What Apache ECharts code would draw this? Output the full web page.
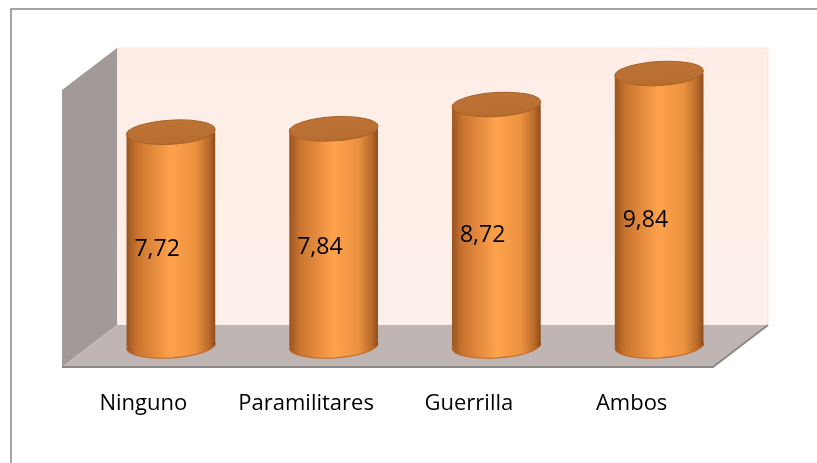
<!DOCTYPE html>
<html>
<head>
<meta charset="utf-8">
<script src="https://cdn.jsdelivr.net/npm/echarts@6/dist/echarts.min.js"></script>
<style>
	html, body { margin: 0; padding: 0; background: #fff; }
	#chart { width: 817px; height: 463px; }
</style>
</head>
<body>
<div id="chart"></div>
<script>
	// datos
	var categorias = ['Ninguno', 'Paramilitares', 'Guerrilla', 'Ambos'];
	var valores = [7.72, 7.84, 8.72, 9.84];
	var ejeMin = 0;
	var ejeMax = 10;

	// desplazamiento de profundidad (efecto 3D)
	var DX = 27.5, DY = 21;

	var myChart = echarts.init(document.getElementById('chart'));

	function paredes(params, api) {
		var c = params.coordSys;
		var x0 = c.x, y0 = c.y, x1 = c.x + c.width, y1 = c.y + c.height;
		return {
			type: 'group',
			children: [{
				// fondo
				type: 'rect',
				shape: { x: x0 + DX, y: y0 - DY, width: c.width, height: c.height },
				style: {
					fill: new echarts.graphic.LinearGradient(0, 0, 0, 1, [
						{ offset: 0, color: '#fdede6' },
						{ offset: 1, color: '#fdf0ea' }
					]),
					stroke: '#f6e6e0', lineWidth: 1
				}
			}, {
				// pared izquierda
				type: 'polygon',
				shape: { points: [[x0 - DX, y0 + DY], [x0 + DX, y0 - DY], [x0 + DX, y1 - DY], [x0 - DX, y1 + DY]] },
				style: { fill: '#a19a98' }
			}, {
				// piso
				type: 'polygon',
				shape: { points: [[x0 + DX, y1 - DY], [x1 + DX, y1 - DY], [x1 - DX, y1 + DY], [x0 - DX, y1 + DY]] },
				style: { fill: '#bfb5b2' }
			}, {
				type: 'polyline',
				shape: { points: [[x0 - DX, y1 + DY], [x1 - DX, y1 + DY], [x1 + DX, y1 - DY]] },
				style: { stroke: '#8c8888', lineWidth: 2, fill: null }
			}]
		};
	}

	function cilindro(params, api) {
		var idx = api.value(0);
		var v = api.value(1);
		var top = api.coord([idx, v]);
		var base = api.coord([idx, 0]);
		var w = api.size([1, 0])[0] * 0.545;
		var rx = w / 2, ry = 12;
		var cx = top[0];
		var rot = 0.06;
		var cuerpo = new echarts.graphic.LinearGradient(0, 0, 1, 0, [
			{ offset: 0, color: '#9a5421' },
			{ offset: 0.12, color: '#c9742f' },
			{ offset: 0.5, color: '#ffa24c' },
			{ offset: 0.78, color: '#eb913f' },
			{ offset: 0.93, color: '#b86a2b' },
			{ offset: 1, color: '#8e4c1c' }
		]);
		var texto = v.toFixed(2).replace('.', ',');
		return {
			type: 'group',
			children: [{
				type: 'ellipse',
				shape: { cx: cx, cy: base[1], rx: rx, ry: ry },
				rotation: rot, originX: cx, originY: base[1],
				style: { fill: cuerpo, stroke: '#c06a28', lineWidth: 1 }
			}, {
				type: 'rect',
				shape: { x: cx - rx, y: top[1], width: w, height: base[1] - top[1] },
				style: { fill: cuerpo }
			}, {
				type: 'ellipse',
				shape: { cx: cx, cy: top[1], rx: rx, ry: ry },
				rotation: rot, originX: cx, originY: top[1],
				style: {
					fill: new echarts.graphic.LinearGradient(0, 0, 0, 1, [
						{ offset: 0, color: '#bd7436' },
						{ offset: 1, color: '#b66d2f' }
					]),
					stroke: '#a9622a', lineWidth: 1
				}
			}, {
				type: 'text',
				x: cx - DX / 2,
				y: (top[1] + base[1]) / 2 + DY / 2,
				style: {
					text: texto,
					fill: '#000',
					font: '23px "Open Sans"',
					align: 'center',
					verticalAlign: 'middle'
				}
			}]
		};
	}

	myChart.setOption({
		animation: false,
		graphic: [{
			type: 'rect',
			shape: { x: 11, y: 9, width: 900, height: 520 },
			style: { fill: null, stroke: '#868686', lineWidth: 1.5 },
			z: 100
		}],
		grid: [
			{ left: 89.5, right: 76.5, top: 69, bottom: 117 },
			{ left: 62, right: 104, top: 90, bottom: 96 }
		],
		xAxis: [{
			type: 'category', gridIndex: 0, data: categorias,
			axisLine: { show: false }, axisTick: { show: false }, axisLabel: { show: false }
		}, {
			type: 'category', gridIndex: 1, data: categorias,
			axisLine: { show: false }, axisTick: { show: false },
			axisLabel: {
				interval: 0, margin: 26, color: '#000', fontSize: 22, fontFamily: 'Open Sans'
			}
		}],
		yAxis: [{
			type: 'value', gridIndex: 0, min: ejeMin, max: ejeMax, show: false
		}, {
			type: 'value', gridIndex: 1, min: ejeMin, max: ejeMax, show: false
		}],
		series: [{
			type: 'custom',
			xAxisIndex: 0, yAxisIndex: 0,
			renderItem: paredes,
			data: [[0, 0]],
			silent: true,
			z: 1
		}, {
			name: 'Promedio',
			type: 'custom',
			xAxisIndex: 0, yAxisIndex: 0,
			renderItem: cilindro,
			data: valores.map(function (v, i) { return [i, v]; }),
			z: 2
		}]
	});
</script>
</body>
</html>
